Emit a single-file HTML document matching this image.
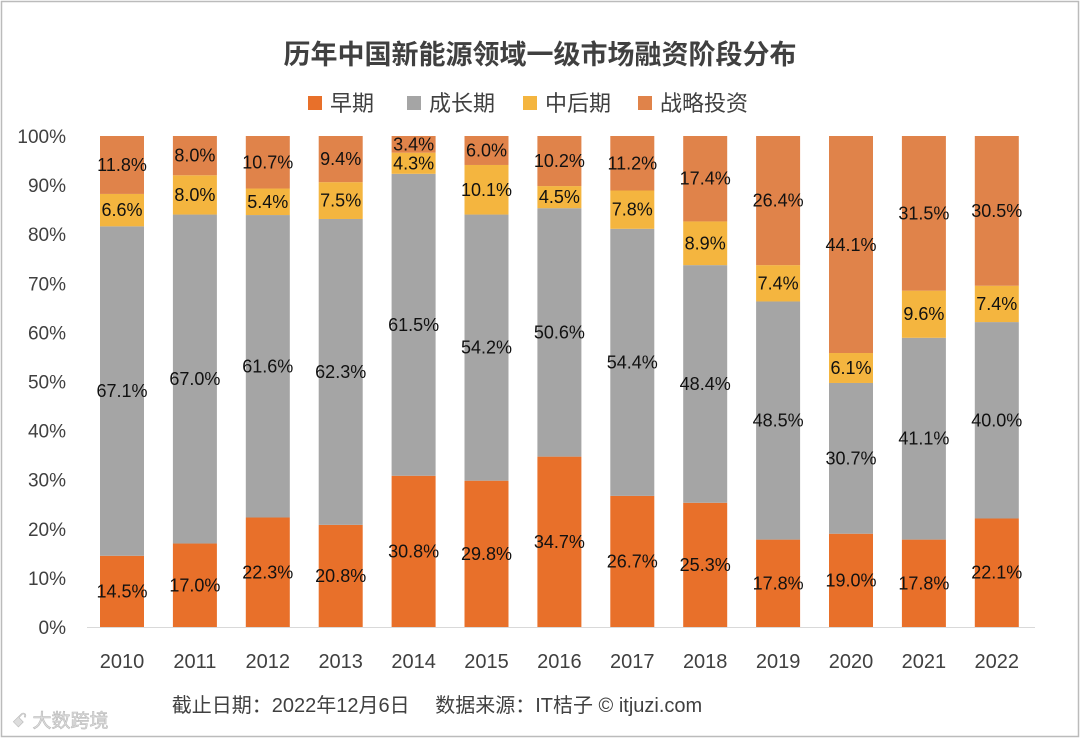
<!DOCTYPE html>
<html><head><meta charset="utf-8">
<style>
html,body{margin:0;padding:0;background:#fff;}
body{width:1080px;height:739px;overflow:hidden;font-family:"Liberation Sans","Noto Sans CJK SC",sans-serif;}
svg text{font-family:"Liberation Sans","Noto Sans CJK SC",sans-serif;}
</style></head>
<body>
<svg id="chart" width="1080" height="739" viewBox="0 0 1080 739">
<rect x="1.5" y="1.5" width="1077" height="735" fill="#fff" stroke="#bbb" stroke-width="1.5"/>
<text x="540" y="64" text-anchor="middle" font-size="27" font-weight="bold" fill="#404040">历年中国新能源领域一级市场融资阶段分布</text>
<g id="legend"></g>
<g id="yaxis"></g>
<g id="bars"></g>
<g id="xaxis"></g>
<text x="437" y="712" text-anchor="middle" font-size="20" fill="#404040">截止日期：2022年12月6日　 数据来源：IT桔子 © itjuzi.com</text>
<text x="12" y="727" font-size="19" fill="#ddd" stroke="#bbb" stroke-width="0.6">ꗃ 大数跨境</text>
</svg>
<script>
const categories=["2010","2011","2012","2013","2014","2015","2016","2017","2018","2019","2020","2021","2022"];
const seriesNames=["早期","成长期","中后期","战略投资"];
const early=[14.5,17.0,22.3,20.8,30.8,29.8,34.7,26.7,25.3,17.8,19.0,17.8,22.1];
const growth=[67.1,67.0,61.6,62.3,61.5,54.2,50.6,54.4,48.4,48.5,30.7,41.1,40.0];
const late=[6.6,8.0,5.4,7.5,4.3,10.1,4.5,7.8,8.9,7.4,6.1,9.6,7.4];
const strategic=[11.8,8.0,10.7,9.4,3.4,6.0,10.2,11.2,17.4,26.4,44.1,31.5,30.5];
const yTicks=[0,10,20,30,40,50,60,70,80,90,100];
const colors=["#E8702A","#A5A5A5","#F4B53F","#E0834A"];
const NS="http://www.w3.org/2000/svg";
const X0=122,STEP=72.9,BW=44,Y0=627,Y100=136;
function xPos(i){return X0+i*STEP;}
function yPos(v){return Y0-(v/100)*(Y0-Y100);}
function mk(tag,attrs,parent,txt){const e=document.createElementNS(NS,tag);for(const k in attrs)e.setAttribute(k,attrs[k]);if(txt!==undefined)e.textContent=txt;parent.appendChild(e);return e;}
const ya=document.getElementById('yaxis');
yTicks.forEach(t=>{
  const e=mk('text',{x:66,y:yPos(t)+7,'text-anchor':'end','font-size':19,fill:'#404040'},ya,t+'%');
  
  
});
const al=mk('line',{x1:87,x2:1035,y1:Y0+0.5,y2:Y0+0.5,stroke:'#d9d9d9','stroke-width':1},ya);


const series=[early,growth,late,strategic];
const bg=document.getElementById('bars');
const xa=document.getElementById('xaxis');
categories.forEach((c,i)=>{
  let cum=0;
  series.forEach((s,k)=>{
    const v=s[i];const a=cum,b=Math.min(100,cum+v);cum+=v;
    const top=(k===3)?100:b;
    const r=mk('rect',{x:xPos(i)-BW/2,y:yPos(top),width:BW,height:Math.max(0,yPos(a)-yPos(top)),fill:colors[k]},bg);
    
    
    const t=mk('text',{x:xPos(i),y:(yPos(a)+yPos(b))/2+6,'text-anchor':'middle','font-size':18,fill:'#111'},bg,v.toFixed(1)+'%');
    
    
  });
  const xl=mk('text',{x:xPos(i),y:668,'text-anchor':'middle','font-size':20,fill:'#404040'},xa,c);
  
  
});
const lg=document.getElementById('legend');
const lx=[308,407,523,638];
seriesNames.forEach((n,k)=>{
  const r=mk('rect',{x:lx[k],y:96,width:14,height:14,fill:colors[k]},lg);
  
  
  const t=mk('text',{x:lx[k]+22,y:111,'font-size':22,fill:'#404040'},lg,n);
  
  
});
</script>
</body></html>
